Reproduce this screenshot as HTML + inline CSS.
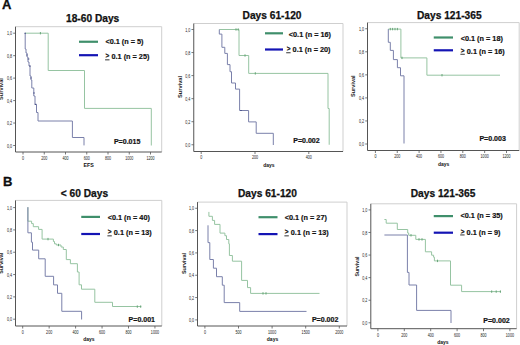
<!DOCTYPE html>
<html><head><meta charset="utf-8"><style>
html,body{margin:0;padding:0;background:#fff;width:520px;height:345px;overflow:hidden}
svg{display:block}
text{font-family:"Liberation Sans", sans-serif;fill:#111}
.tk{font-size:4.6px;fill:#222}
.ti{font-size:10.2px;font-weight:bold;stroke:#111;stroke-width:0.25px}
.al{font-size:5.7px;font-weight:bold;fill:#222}
.xl{font-size:5.0px;font-weight:bold;fill:#111}
.lg{font-size:7.3px;font-weight:bold;stroke:#111;stroke-width:0.18px}
.pv{font-size:7.05px;font-weight:bold;stroke:#111;stroke-width:0.2px}
.pl{font-size:13px;font-weight:bold;stroke:#000;stroke-width:0.3px}
</style></head><body>
<svg width="520" height="345" viewBox="0 0 520 345">
<rect width="520" height="345" fill="#fff"/>
<path d="M15.5,26.7 H161.7 V152.0" fill="none" stroke="#cfcfcf" stroke-width="1"/>
<path d="M15.5,26.7 V152.0 H161.7" fill="none" stroke="#555555" stroke-width="1"/>
<line x1="13.2" y1="145.50" x2="15.5" y2="145.50" stroke="#555555" stroke-width="0.8"/>
<text transform="translate(12.10,147.70) scale(0.8,1)" class="tk" text-anchor="end">0,0</text>
<line x1="13.2" y1="123.04" x2="15.5" y2="123.04" stroke="#555555" stroke-width="0.8"/>
<text transform="translate(12.10,125.24) scale(0.8,1)" class="tk" text-anchor="end">0,2</text>
<line x1="13.2" y1="100.58" x2="15.5" y2="100.58" stroke="#555555" stroke-width="0.8"/>
<text transform="translate(12.10,102.78) scale(0.8,1)" class="tk" text-anchor="end">0,4</text>
<line x1="13.2" y1="78.12" x2="15.5" y2="78.12" stroke="#555555" stroke-width="0.8"/>
<text transform="translate(12.10,80.32) scale(0.8,1)" class="tk" text-anchor="end">0,6</text>
<line x1="13.2" y1="55.66" x2="15.5" y2="55.66" stroke="#555555" stroke-width="0.8"/>
<text transform="translate(12.10,57.86) scale(0.8,1)" class="tk" text-anchor="end">0,8</text>
<line x1="13.2" y1="33.20" x2="15.5" y2="33.20" stroke="#555555" stroke-width="0.8"/>
<text transform="translate(12.10,35.40) scale(0.8,1)" class="tk" text-anchor="end">1,0</text>
<line x1="23.00" y1="152.0" x2="23.00" y2="154.5" stroke="#555555" stroke-width="0.8"/>
<text transform="translate(23.00,159.60) scale(0.8,1)" class="tk" text-anchor="middle">0</text>
<line x1="44.25" y1="152.0" x2="44.25" y2="154.5" stroke="#555555" stroke-width="0.8"/>
<text transform="translate(44.25,159.60) scale(0.8,1)" class="tk" text-anchor="middle">200</text>
<line x1="65.50" y1="152.0" x2="65.50" y2="154.5" stroke="#555555" stroke-width="0.8"/>
<text transform="translate(65.50,159.60) scale(0.8,1)" class="tk" text-anchor="middle">400</text>
<line x1="86.75" y1="152.0" x2="86.75" y2="154.5" stroke="#555555" stroke-width="0.8"/>
<text transform="translate(86.75,159.60) scale(0.8,1)" class="tk" text-anchor="middle">600</text>
<line x1="108.00" y1="152.0" x2="108.00" y2="154.5" stroke="#555555" stroke-width="0.8"/>
<text transform="translate(108.00,159.60) scale(0.8,1)" class="tk" text-anchor="middle">800</text>
<line x1="129.25" y1="152.0" x2="129.25" y2="154.5" stroke="#555555" stroke-width="0.8"/>
<text transform="translate(129.25,159.60) scale(0.8,1)" class="tk" text-anchor="middle">1000</text>
<line x1="150.50" y1="152.0" x2="150.50" y2="154.5" stroke="#555555" stroke-width="0.8"/>
<text transform="translate(150.50,159.60) scale(0.8,1)" class="tk" text-anchor="middle">1200</text>
<text x="66.0" y="21.7" class="ti">18-60 Days</text>
<text x="88.6" y="166.8" class="xl" text-anchor="middle" style="font-size:5.3px">EFS</text>
<text x="2.8" y="89" class="al" style="font-size:5.6px" text-anchor="middle" transform="rotate(-90 2.8 89)">Survival</text>
<path d="M25,33.2 H48.2 V70.5 H84.5 V108.4 H151.3 V145.5" fill="none" stroke="#96c4a2" stroke-width="1.0"/>
<path d="M25.2,33.2 V49 H26 V53 H27 V57 H28 V62 H29 V66 H30 V76 H31 V80 H31.8 V88 H33.8 V96 H35 V104.4 H36.5 V112.5 H38 V121 H72.4 V137.5 H84 V145.4" fill="none" stroke="#7a80aa" stroke-width="1.0"/>
<line x1="40.4" y1="32.0" x2="40.4" y2="34.400000000000006" stroke="#5f9f70" stroke-width="0.9"/>
<line x1="24.4" y1="33.2" x2="26.0" y2="33.2" stroke="#4a5288" stroke-width="1.1"/>
<line x1="26.2" y1="55" x2="27.8" y2="55" stroke="#4a5288" stroke-width="1.1"/>
<line x1="27.7" y1="59" x2="29.3" y2="59" stroke="#4a5288" stroke-width="1.1"/>
<line x1="29.2" y1="66" x2="30.8" y2="66" stroke="#4a5288" stroke-width="1.1"/>
<line x1="30.2" y1="78" x2="31.8" y2="78" stroke="#4a5288" stroke-width="1.1"/>
<line x1="33.2" y1="93" x2="34.8" y2="93" stroke="#4a5288" stroke-width="1.1"/>
<line x1="34.7" y1="104.4" x2="36.3" y2="104.4" stroke="#4a5288" stroke-width="1.1"/>
<line x1="79" y1="41.75" x2="98" y2="41.75" stroke="#3f8f6b" stroke-width="2.2"/>
<line x1="79" y1="55.2" x2="98" y2="55.2" stroke="#1414b4" stroke-width="2.2"/>
<text x="105.4" y="43.7" class="lg">&lt;0.1 (n = 5)</text>
<text x="105.55" y="58.4" class="lg" style="font-size:6.5px">&gt;</text>
<text x="111.5" y="59.4" class="lg">0.1 (n = 25)</text>
<line x1="105.10000000000001" y1="59.85" x2="109.5" y2="59.85" stroke="#333" stroke-width="1.0"/>
<text x="113.9" y="143.6" class="pv">P=0.015</text>
<path d="M193.75,23.5 H343 V151.5" fill="none" stroke="#cfcfcf" stroke-width="1"/>
<path d="M193.75,23.5 V151.5 H343" fill="none" stroke="#555555" stroke-width="1"/>
<line x1="191.45" y1="144.75" x2="193.75" y2="144.75" stroke="#555555" stroke-width="0.8"/>
<text transform="translate(190.35,146.95) scale(0.8,1)" class="tk" text-anchor="end">0,0</text>
<line x1="191.45" y1="121.70" x2="193.75" y2="121.70" stroke="#555555" stroke-width="0.8"/>
<text transform="translate(190.35,123.90) scale(0.8,1)" class="tk" text-anchor="end">0,2</text>
<line x1="191.45" y1="98.65" x2="193.75" y2="98.65" stroke="#555555" stroke-width="0.8"/>
<text transform="translate(190.35,100.85) scale(0.8,1)" class="tk" text-anchor="end">0,4</text>
<line x1="191.45" y1="75.60" x2="193.75" y2="75.60" stroke="#555555" stroke-width="0.8"/>
<text transform="translate(190.35,77.80) scale(0.8,1)" class="tk" text-anchor="end">0,6</text>
<line x1="191.45" y1="52.55" x2="193.75" y2="52.55" stroke="#555555" stroke-width="0.8"/>
<text transform="translate(190.35,54.75) scale(0.8,1)" class="tk" text-anchor="end">0,8</text>
<line x1="191.45" y1="29.50" x2="193.75" y2="29.50" stroke="#555555" stroke-width="0.8"/>
<text transform="translate(190.35,31.70) scale(0.8,1)" class="tk" text-anchor="end">1,0</text>
<line x1="201.20" y1="151.5" x2="201.20" y2="154.0" stroke="#555555" stroke-width="0.8"/>
<text transform="translate(201.20,159.10) scale(0.8,1)" class="tk" text-anchor="middle">0</text>
<line x1="255.00" y1="151.5" x2="255.00" y2="154.0" stroke="#555555" stroke-width="0.8"/>
<text transform="translate(255.00,159.10) scale(0.8,1)" class="tk" text-anchor="middle">200</text>
<line x1="308.80" y1="151.5" x2="308.80" y2="154.0" stroke="#555555" stroke-width="0.8"/>
<text transform="translate(308.80,159.10) scale(0.8,1)" class="tk" text-anchor="middle">400</text>
<text x="242.6" y="18.5" class="ti">Days 61-120</text>
<text x="268.9" y="166.5" class="xl" text-anchor="middle">days</text>
<text x="182.1" y="87" class="al" style="font-size:5.7px" text-anchor="middle" transform="rotate(-90 182.1 87)">Survival</text>
<path d="M219.3,29.5 H239 V55.5 H248.7 V73.4 H328 V108.5 H329.2 V144.75" fill="none" stroke="#96c4a2" stroke-width="1.0"/>
<path d="M219.3,29.5 V34.1 H221.9 V47.3 H224.8 V53.4 H227.4 V64.6 H230 V71.7 H231.5 V83 H235.5 V89.1 H239.6 V110.5 H248.6 V121.9 H256.2 V133.3 H273.3 V145" fill="none" stroke="#7a80aa" stroke-width="1.0"/>
<line x1="236" y1="28.3" x2="236" y2="30.7" stroke="#5f9f70" stroke-width="0.9"/>
<line x1="238.2" y1="28.3" x2="238.2" y2="30.7" stroke="#5f9f70" stroke-width="0.9"/>
<line x1="245" y1="54.3" x2="245" y2="56.7" stroke="#5f9f70" stroke-width="0.9"/>
<line x1="255.3" y1="72.2" x2="255.3" y2="74.60000000000001" stroke="#5f9f70" stroke-width="0.9"/>
<line x1="240.2" y1="110.5" x2="241.8" y2="110.5" stroke="#4a5288" stroke-width="1.1"/>
<line x1="265" y1="33.3" x2="283" y2="33.3" stroke="#3f8f6b" stroke-width="2.2"/>
<line x1="265" y1="49.5" x2="283" y2="49.5" stroke="#1414b4" stroke-width="2.2"/>
<text x="288.8" y="36.8" class="lg">&lt;0.1 (n = 16)</text>
<text x="286.65000000000003" y="51.3" class="lg" style="font-size:6.5px">&gt;</text>
<text x="292.6" y="52.3" class="lg">0.1 (n = 20)</text>
<line x1="286.2" y1="52.75" x2="290.6" y2="52.75" stroke="#333" stroke-width="1.0"/>
<text x="293.25" y="143.2" class="pv">P=0.002</text>
<path d="M367.5,22.6 H519.2 V150.5" fill="none" stroke="#cfcfcf" stroke-width="1"/>
<path d="M367.5,22.6 V150.5 H519.2" fill="none" stroke="#555555" stroke-width="1"/>
<line x1="365.2" y1="144.00" x2="367.5" y2="144.00" stroke="#555555" stroke-width="0.8"/>
<text transform="translate(364.10,146.20) scale(0.8,1)" class="tk" text-anchor="end">0,0</text>
<line x1="365.2" y1="120.95" x2="367.5" y2="120.95" stroke="#555555" stroke-width="0.8"/>
<text transform="translate(364.10,123.15) scale(0.8,1)" class="tk" text-anchor="end">0,2</text>
<line x1="365.2" y1="97.90" x2="367.5" y2="97.90" stroke="#555555" stroke-width="0.8"/>
<text transform="translate(364.10,100.10) scale(0.8,1)" class="tk" text-anchor="end">0,4</text>
<line x1="365.2" y1="74.85" x2="367.5" y2="74.85" stroke="#555555" stroke-width="0.8"/>
<text transform="translate(364.10,77.05) scale(0.8,1)" class="tk" text-anchor="end">0,6</text>
<line x1="365.2" y1="51.80" x2="367.5" y2="51.80" stroke="#555555" stroke-width="0.8"/>
<text transform="translate(364.10,54.00) scale(0.8,1)" class="tk" text-anchor="end">0,8</text>
<line x1="365.2" y1="28.75" x2="367.5" y2="28.75" stroke="#555555" stroke-width="0.8"/>
<text transform="translate(364.10,30.95) scale(0.8,1)" class="tk" text-anchor="end">1,0</text>
<line x1="375.40" y1="150.5" x2="375.40" y2="153.0" stroke="#555555" stroke-width="0.8"/>
<text transform="translate(375.40,158.10) scale(0.8,1)" class="tk" text-anchor="middle">0</text>
<line x1="397.25" y1="150.5" x2="397.25" y2="153.0" stroke="#555555" stroke-width="0.8"/>
<text transform="translate(397.25,158.10) scale(0.8,1)" class="tk" text-anchor="middle">200</text>
<line x1="419.10" y1="150.5" x2="419.10" y2="153.0" stroke="#555555" stroke-width="0.8"/>
<text transform="translate(419.10,158.10) scale(0.8,1)" class="tk" text-anchor="middle">400</text>
<line x1="440.95" y1="150.5" x2="440.95" y2="153.0" stroke="#555555" stroke-width="0.8"/>
<text transform="translate(440.95,158.10) scale(0.8,1)" class="tk" text-anchor="middle">600</text>
<line x1="462.80" y1="150.5" x2="462.80" y2="153.0" stroke="#555555" stroke-width="0.8"/>
<text transform="translate(462.80,158.10) scale(0.8,1)" class="tk" text-anchor="middle">800</text>
<line x1="484.65" y1="150.5" x2="484.65" y2="153.0" stroke="#555555" stroke-width="0.8"/>
<text transform="translate(484.65,158.10) scale(0.8,1)" class="tk" text-anchor="middle">1000</text>
<line x1="506.50" y1="150.5" x2="506.50" y2="153.0" stroke="#555555" stroke-width="0.8"/>
<text transform="translate(506.50,158.10) scale(0.8,1)" class="tk" text-anchor="middle">1200</text>
<text x="417" y="18.6" class="ti">Days 121-365</text>
<text x="443.7" y="166.3" class="xl" text-anchor="middle">days</text>
<text x="355.0" y="86.2" class="al" style="font-size:5.6px" text-anchor="middle" transform="rotate(-90 355.0 86.2)">Survival</text>
<path d="M388.3,29.1 H400.9 V57.9 H426.9 V75.2 H500" fill="none" stroke="#96c4a2" stroke-width="1.0"/>
<path d="M388.3,29.1 V42.3 H390.3 V50.4 H393.4 V59.6 H397.4 V67.7 H400.5 V75.8 H404 V143.5" fill="none" stroke="#7a80aa" stroke-width="1.0"/>
<line x1="390.3" y1="27.900000000000002" x2="390.3" y2="30.3" stroke="#5f9f70" stroke-width="0.9"/>
<line x1="392.6" y1="27.900000000000002" x2="392.6" y2="30.3" stroke="#5f9f70" stroke-width="0.9"/>
<line x1="395" y1="27.900000000000002" x2="395" y2="30.3" stroke="#5f9f70" stroke-width="0.9"/>
<line x1="397.4" y1="27.900000000000002" x2="397.4" y2="30.3" stroke="#5f9f70" stroke-width="0.9"/>
<line x1="402" y1="56.699999999999996" x2="402" y2="59.1" stroke="#5f9f70" stroke-width="0.9"/>
<line x1="442" y1="74.0" x2="442" y2="76.4" stroke="#5f9f70" stroke-width="0.9"/>
<line x1="433.75" y1="37.5" x2="453" y2="37.5" stroke="#3f8f6b" stroke-width="2.2"/>
<line x1="433.75" y1="50.3" x2="453" y2="50.3" stroke="#1414b4" stroke-width="2.2"/>
<text x="460.7" y="41.1" class="lg">&lt;0.1 (n = 18)</text>
<text x="460.85" y="52.8" class="lg" style="font-size:6.5px">&gt;</text>
<text x="466.8" y="53.8" class="lg">0.1 (n = 16)</text>
<line x1="460.4" y1="54.25" x2="464.8" y2="54.25" stroke="#333" stroke-width="1.0"/>
<text x="479.4" y="141.4" class="pv">P=0.003</text>
<path d="M15.5,200.4 H161.8 V326.0" fill="none" stroke="#cfcfcf" stroke-width="1"/>
<path d="M15.5,200.4 V326.0 H161.8" fill="none" stroke="#555555" stroke-width="1"/>
<line x1="13.2" y1="319.20" x2="15.5" y2="319.20" stroke="#555555" stroke-width="0.8"/>
<text transform="translate(12.10,321.40) scale(0.8,1)" class="tk" text-anchor="end">0,0</text>
<line x1="13.2" y1="296.88" x2="15.5" y2="296.88" stroke="#555555" stroke-width="0.8"/>
<text transform="translate(12.10,299.08) scale(0.8,1)" class="tk" text-anchor="end">0,2</text>
<line x1="13.2" y1="274.56" x2="15.5" y2="274.56" stroke="#555555" stroke-width="0.8"/>
<text transform="translate(12.10,276.76) scale(0.8,1)" class="tk" text-anchor="end">0,4</text>
<line x1="13.2" y1="252.24" x2="15.5" y2="252.24" stroke="#555555" stroke-width="0.8"/>
<text transform="translate(12.10,254.44) scale(0.8,1)" class="tk" text-anchor="end">0,6</text>
<line x1="13.2" y1="229.92" x2="15.5" y2="229.92" stroke="#555555" stroke-width="0.8"/>
<text transform="translate(12.10,232.12) scale(0.8,1)" class="tk" text-anchor="end">0,8</text>
<line x1="13.2" y1="207.60" x2="15.5" y2="207.60" stroke="#555555" stroke-width="0.8"/>
<text transform="translate(12.10,209.80) scale(0.8,1)" class="tk" text-anchor="end">1,0</text>
<line x1="22.70" y1="326.0" x2="22.70" y2="328.5" stroke="#555555" stroke-width="0.8"/>
<text transform="translate(22.70,333.60) scale(0.8,1)" class="tk" text-anchor="middle">0</text>
<line x1="49.15" y1="326.0" x2="49.15" y2="328.5" stroke="#555555" stroke-width="0.8"/>
<text transform="translate(49.15,333.60) scale(0.8,1)" class="tk" text-anchor="middle">200</text>
<line x1="75.60" y1="326.0" x2="75.60" y2="328.5" stroke="#555555" stroke-width="0.8"/>
<text transform="translate(75.60,333.60) scale(0.8,1)" class="tk" text-anchor="middle">400</text>
<line x1="102.05" y1="326.0" x2="102.05" y2="328.5" stroke="#555555" stroke-width="0.8"/>
<text transform="translate(102.05,333.60) scale(0.8,1)" class="tk" text-anchor="middle">600</text>
<line x1="128.50" y1="326.0" x2="128.50" y2="328.5" stroke="#555555" stroke-width="0.8"/>
<text transform="translate(128.50,333.60) scale(0.8,1)" class="tk" text-anchor="middle">800</text>
<line x1="154.95" y1="326.0" x2="154.95" y2="328.5" stroke="#555555" stroke-width="0.8"/>
<text transform="translate(154.95,333.60) scale(0.8,1)" class="tk" text-anchor="middle">1000</text>
<text x="60.75" y="196.6" class="ti">< 60 Days</text>
<text x="88.85" y="340.8" class="xl" text-anchor="middle">days</text>
<text x="2.8" y="263.3" class="al" style="font-size:5.4px" text-anchor="middle" transform="rotate(-90 2.8 263.3)">Survival</text>
<path d="M27.9,207.2 V221.2 H31.6 V223.6 H33.3 V226.7 H38.6 V229.4 H42.1 V239.1 H53.4 V241.5 H54.5 V243.8 H56.3 V245 H61 V247 H63.3 V249.5 H66.3 V259.6 H70.4 V263.7 H77.4 V272 H79.1 V284.8 H81.5 V289.2 H94.8 V302.3 H112.5 V306.5 H141.3" fill="none" stroke="#96c4a2" stroke-width="1.0"/>
<path d="M27.9,207.2 V232.8 H31.4 V242.2 H32.5 V250.1 H38.7 V258.8 H45.2 V276.3 H53.6 V284.9 H57.5 V293.3 H61.8 V311.3 H81.6 V319.5" fill="none" stroke="#7a80aa" stroke-width="1.0"/>
<line x1="48" y1="237.9" x2="48" y2="240.29999999999998" stroke="#5f9f70" stroke-width="0.9"/>
<line x1="58.5" y1="243.8" x2="58.5" y2="246.2" stroke="#5f9f70" stroke-width="0.9"/>
<line x1="137.3" y1="305.40000000000003" x2="137.3" y2="307.8" stroke="#5f9f70" stroke-width="0.9"/>
<line x1="140.7" y1="305.40000000000003" x2="140.7" y2="307.8" stroke="#5f9f70" stroke-width="0.9"/>
<line x1="81.25" y1="216.9" x2="100" y2="216.9" stroke="#3f8f6b" stroke-width="2.2"/>
<line x1="81.25" y1="234.0" x2="100" y2="234.0" stroke="#1414b4" stroke-width="2.2"/>
<text x="107.7" y="219.5" class="lg">&lt;0.1 (n = 40)</text>
<text x="107.85" y="234.4" class="lg" style="font-size:6.5px">&gt;</text>
<text x="113.8" y="235.4" class="lg">0.1 (n = 13)</text>
<line x1="107.4" y1="235.85" x2="111.8" y2="235.85" stroke="#333" stroke-width="1.0"/>
<text x="128.6" y="322.3" class="pv">P=0.001</text>
<path d="M197.5,202.1 H347 V326.0" fill="none" stroke="#cfcfcf" stroke-width="1"/>
<path d="M197.5,202.1 V326.0 H347" fill="none" stroke="#555555" stroke-width="1"/>
<line x1="195.2" y1="319.90" x2="197.5" y2="319.90" stroke="#555555" stroke-width="0.8"/>
<text transform="translate(194.10,322.10) scale(0.8,1)" class="tk" text-anchor="end">0,0</text>
<line x1="195.2" y1="297.57" x2="197.5" y2="297.57" stroke="#555555" stroke-width="0.8"/>
<text transform="translate(194.10,299.77) scale(0.8,1)" class="tk" text-anchor="end">0,2</text>
<line x1="195.2" y1="275.24" x2="197.5" y2="275.24" stroke="#555555" stroke-width="0.8"/>
<text transform="translate(194.10,277.44) scale(0.8,1)" class="tk" text-anchor="end">0,4</text>
<line x1="195.2" y1="252.91" x2="197.5" y2="252.91" stroke="#555555" stroke-width="0.8"/>
<text transform="translate(194.10,255.11) scale(0.8,1)" class="tk" text-anchor="end">0,6</text>
<line x1="195.2" y1="230.58" x2="197.5" y2="230.58" stroke="#555555" stroke-width="0.8"/>
<text transform="translate(194.10,232.78) scale(0.8,1)" class="tk" text-anchor="end">0,8</text>
<line x1="195.2" y1="208.25" x2="197.5" y2="208.25" stroke="#555555" stroke-width="0.8"/>
<text transform="translate(194.10,210.45) scale(0.8,1)" class="tk" text-anchor="end">1,0</text>
<line x1="204.90" y1="326.0" x2="204.90" y2="328.5" stroke="#555555" stroke-width="0.8"/>
<text transform="translate(204.90,333.60) scale(0.8,1)" class="tk" text-anchor="middle">0</text>
<line x1="238.50" y1="326.0" x2="238.50" y2="328.5" stroke="#555555" stroke-width="0.8"/>
<text transform="translate(238.50,333.60) scale(0.8,1)" class="tk" text-anchor="middle">500</text>
<line x1="272.10" y1="326.0" x2="272.10" y2="328.5" stroke="#555555" stroke-width="0.8"/>
<text transform="translate(272.10,333.60) scale(0.8,1)" class="tk" text-anchor="middle">1000</text>
<line x1="305.70" y1="326.0" x2="305.70" y2="328.5" stroke="#555555" stroke-width="0.8"/>
<text transform="translate(305.70,333.60) scale(0.8,1)" class="tk" text-anchor="middle">1500</text>
<line x1="339.30" y1="326.0" x2="339.30" y2="328.5" stroke="#555555" stroke-width="0.8"/>
<text transform="translate(339.30,333.60) scale(0.8,1)" class="tk" text-anchor="middle">2000</text>
<text x="238" y="196.6" class="ti">Days 61-120</text>
<text x="272.5" y="340.8" class="xl" text-anchor="middle">days</text>
<text x="186.4" y="263.5" class="al" style="font-size:5.4px" text-anchor="middle" transform="rotate(-90 186.4 263.5)">Survival</text>
<path d="M208.9,211.9 V216.3 H212.4 V220.4 H214.6 V224.4 H220 V233.1 H224.9 V235.7 H226.5 V239.5 H228.8 V243.8 H229.4 V255.5 H232.4 V261.2 H241.6 V280.4 H247.5 V287.6 H250.6 V293.4 H319.5" fill="none" stroke="#96c4a2" stroke-width="1.0"/>
<path d="M208.0,225.3 V242.6 H209.8 V259.5 H213.4 V268.2 H216.5 V276.7 H222.3 V285.2 H224.2 V302.6 H239.7 V311.4 H306.5" fill="none" stroke="#7a80aa" stroke-width="1.0"/>
<line x1="263" y1="292.2" x2="263" y2="294.59999999999997" stroke="#5f9f70" stroke-width="0.9"/>
<line x1="266" y1="292.2" x2="266" y2="294.59999999999997" stroke="#5f9f70" stroke-width="0.9"/>
<line x1="258.5" y1="217.2" x2="277.5" y2="217.2" stroke="#3f8f6b" stroke-width="2.2"/>
<line x1="258.5" y1="234.1" x2="277.5" y2="234.1" stroke="#1414b4" stroke-width="2.2"/>
<text x="284.7" y="219.5" class="lg">&lt;0.1 (n = 27)</text>
<text x="284.85" y="234.4" class="lg" style="font-size:6.5px">&gt;</text>
<text x="290.8" y="235.4" class="lg">0.1 (n = 13)</text>
<line x1="284.4" y1="235.85" x2="288.8" y2="235.85" stroke="#333" stroke-width="1.0"/>
<text x="311.9" y="322.2" class="pv">P=0.002</text>
<path d="M370.8,203.8 H516.6 V328.7" fill="none" stroke="#cfcfcf" stroke-width="1"/>
<path d="M370.8,203.8 V328.7 H516.6" fill="none" stroke="#555555" stroke-width="1"/>
<line x1="368.5" y1="322.80" x2="370.8" y2="322.80" stroke="#555555" stroke-width="0.8"/>
<text transform="translate(367.40,325.00) scale(0.8,1)" class="tk" text-anchor="end">0,0</text>
<line x1="368.5" y1="300.22" x2="370.8" y2="300.22" stroke="#555555" stroke-width="0.8"/>
<text transform="translate(367.40,302.42) scale(0.8,1)" class="tk" text-anchor="end">0,2</text>
<line x1="368.5" y1="277.64" x2="370.8" y2="277.64" stroke="#555555" stroke-width="0.8"/>
<text transform="translate(367.40,279.84) scale(0.8,1)" class="tk" text-anchor="end">0,4</text>
<line x1="368.5" y1="255.06" x2="370.8" y2="255.06" stroke="#555555" stroke-width="0.8"/>
<text transform="translate(367.40,257.26) scale(0.8,1)" class="tk" text-anchor="end">0,6</text>
<line x1="368.5" y1="232.48" x2="370.8" y2="232.48" stroke="#555555" stroke-width="0.8"/>
<text transform="translate(367.40,234.68) scale(0.8,1)" class="tk" text-anchor="end">0,8</text>
<line x1="368.5" y1="209.90" x2="370.8" y2="209.90" stroke="#555555" stroke-width="0.8"/>
<text transform="translate(367.40,212.10) scale(0.8,1)" class="tk" text-anchor="end">1,0</text>
<line x1="377.90" y1="328.7" x2="377.90" y2="331.2" stroke="#555555" stroke-width="0.8"/>
<text transform="translate(377.90,336.90) scale(0.8,1)" class="tk" text-anchor="middle">0</text>
<line x1="404.30" y1="328.7" x2="404.30" y2="331.2" stroke="#555555" stroke-width="0.8"/>
<text transform="translate(404.30,336.90) scale(0.8,1)" class="tk" text-anchor="middle">200</text>
<line x1="430.70" y1="328.7" x2="430.70" y2="331.2" stroke="#555555" stroke-width="0.8"/>
<text transform="translate(430.70,336.90) scale(0.8,1)" class="tk" text-anchor="middle">400</text>
<line x1="457.10" y1="328.7" x2="457.10" y2="331.2" stroke="#555555" stroke-width="0.8"/>
<text transform="translate(457.10,336.90) scale(0.8,1)" class="tk" text-anchor="middle">600</text>
<line x1="483.50" y1="328.7" x2="483.50" y2="331.2" stroke="#555555" stroke-width="0.8"/>
<text transform="translate(483.50,336.90) scale(0.8,1)" class="tk" text-anchor="middle">800</text>
<line x1="509.90" y1="328.7" x2="509.90" y2="331.2" stroke="#555555" stroke-width="0.8"/>
<text transform="translate(509.90,336.90) scale(0.8,1)" class="tk" text-anchor="middle">1000</text>
<text x="410.75" y="196.6" class="ti">Days 121-365</text>
<text x="442.9" y="343.5" class="xl" text-anchor="middle">days</text>
<text x="359.0" y="266.5" class="al" style="font-size:5.15px" text-anchor="middle" transform="rotate(-90 359.0 266.5)">Survival</text>
<path d="M384.4,219.5 H386.2 V223.2 H397.3 V229.5 H407.7 V233 H408.7 V235.3 H415.8 V239.4 H425.4 V251.8 H431.6 V255.2 H433.6 V257.2 H434.4 V260.9 H450.5 V285.2 H461.6 V291.6 H501" fill="none" stroke="#96c4a2" stroke-width="1.0"/>
<path d="M384.4,235 H407.4 V272.4 H409 V285 H416.6 V310.4 H451 V323" fill="none" stroke="#7a80aa" stroke-width="1.0"/>
<line x1="411" y1="234.10000000000002" x2="411" y2="236.5" stroke="#5f9f70" stroke-width="0.9"/>
<line x1="419" y1="238.20000000000002" x2="419" y2="240.6" stroke="#5f9f70" stroke-width="0.9"/>
<line x1="422" y1="238.20000000000002" x2="422" y2="240.6" stroke="#5f9f70" stroke-width="0.9"/>
<line x1="437.5" y1="259.7" x2="437.5" y2="262.09999999999997" stroke="#5f9f70" stroke-width="0.9"/>
<line x1="491.7" y1="290.40000000000003" x2="491.7" y2="292.8" stroke="#5f9f70" stroke-width="0.9"/>
<line x1="496.2" y1="290.40000000000003" x2="496.2" y2="292.8" stroke="#5f9f70" stroke-width="0.9"/>
<line x1="500.4" y1="290.40000000000003" x2="500.4" y2="292.8" stroke="#5f9f70" stroke-width="0.9"/>
<line x1="433.75" y1="216.1" x2="453" y2="216.1" stroke="#3f8f6b" stroke-width="2.2"/>
<line x1="433.75" y1="232.7" x2="453" y2="232.7" stroke="#1414b4" stroke-width="2.2"/>
<text x="460.5" y="218.1" class="lg">&lt;0.1 (n = 35)</text>
<text x="460.65000000000003" y="233.5" class="lg" style="font-size:6.5px">&gt;</text>
<text x="466.6" y="234.5" class="lg">0.1 (n = 9)</text>
<line x1="460.2" y1="234.95" x2="464.6" y2="234.95" stroke="#333" stroke-width="1.0"/>
<text x="483.3" y="322.8" class="pv">P=0.002</text>
<text x="1.9" y="8.8" class="pl">A</text>
<text x="2.9" y="185.8" class="pl">B</text>
</svg>
</body></html>
